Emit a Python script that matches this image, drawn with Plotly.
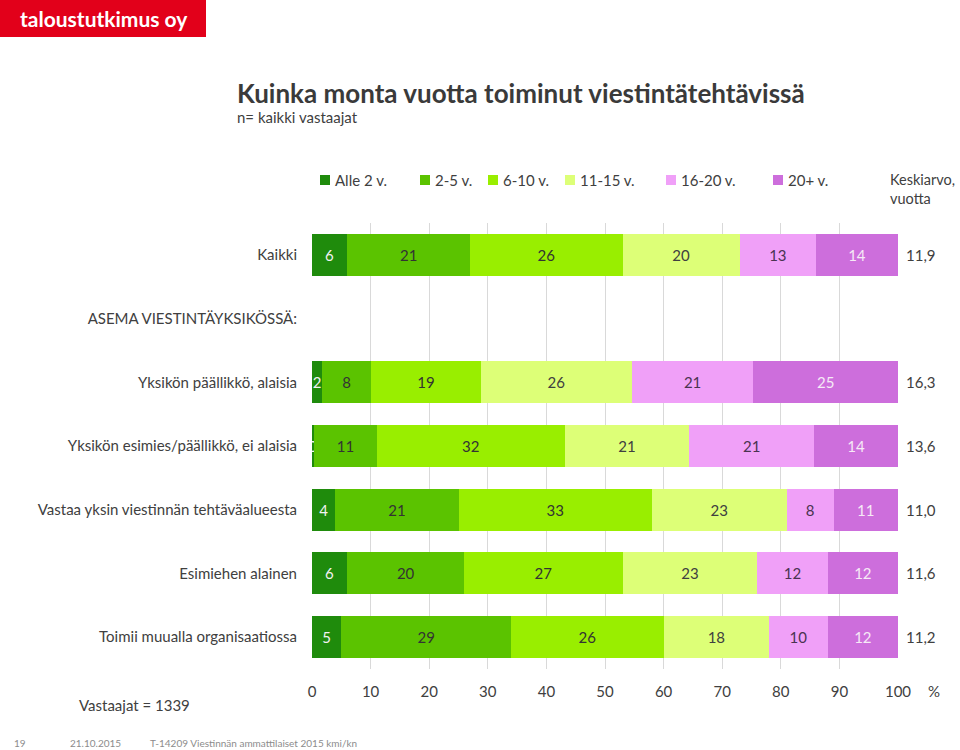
import plotly.graph_objects as go

categories = [
    "Kaikki",
    "ASEMA VIESTINTÄYKSIKÖSSÄ:",
    "Yksikön päällikkö, alaisia",
    "Yksikön esimies/päällikkö, ei alaisia",
    "Vastaa yksin viestinnän tehtäväalueesta",
    "Esimiehen alainen",
    "Toimii muualla organisaatiossa",
]
series_names = ["Alle 2 v.", "2-5 v.", "6-10 v.", "11-15 v.", "16-20 v.", "20+ v."]
# shares in % (labels show rounded values)
alle2 = [6, None, 1.7, 0.3, 4, 6, 5]
v2_5 = [21, None, 8.4, 10.8, 21, 20, 29]
v6_10 = [26, None, 18.7, 32.0, 33, 27, 26]
v11_15 = [20, None, 25.8, 21.3, 23, 23, 18]
v16_20 = [13, None, 20.7, 21.3, 8, 12, 10]
v20plus = [14, None, 24.7, 14.3, 11, 12, 12]
means = ["11,9", None, "16,3", "13,6", "11,0", "11,6", "11,2"]
x_ticks = [0, 10, 20, 30, 40, 50, 60, 70, 80, 90, 100]

colors = ["#1f8b0c", "#5bc300", "#99ee00", "#ddff77", "#f0a0f8", "#cd6edc"]
text_colors = ["#f2f2f2", "#333333", "#333333", "#404040", "#4a3350", "#f6eaf6"]
FONT = "Lato"

fig = go.Figure()
all_series = [alle2, v2_5, v6_10, v11_15, v16_20, v20plus]
for name, vals, col, tcol in zip(series_names, all_series, colors, text_colors):
    fig.add_trace(go.Bar(
        y=categories, x=vals, name=name, orientation="h",
        marker=dict(color=col, line=dict(width=0)),
        texttemplate="%{x:.0f}",
        textposition="inside", insidetextanchor="middle", constraintext="none",
        textfont=dict(family=FONT, size=15, color=tcol),
        width=0.66, showlegend=False, hoverinfo="skip",
    ))

fig.update_layout(
    barmode="stack",
    width=960, height=750, autosize=False,
    margin=dict(l=0, r=0, t=0, b=0),
    paper_bgcolor="white", plot_bgcolor="white",
    font=dict(family=FONT, color="#404040", size=15),
    xaxis=dict(
        domain=[312 / 960, 898 / 960], range=[0, 100],
        tickvals=x_ticks, ticktext=[str(t) for t in x_ticks],
        showgrid=True, gridcolor="#d9d9d9", gridwidth=1,
        zeroline=False, showline=False, ticks="",
        tickfont=dict(family=FONT, size=15, color="#404040"),
        ticklabelstandoff=12, fixedrange=True, automargin=False,
    ),
    yaxis=dict(
        domain=[81 / 750, 527 / 750],
        categoryorder="array", categoryarray=categories[::-1],
        autorange=False, range=[-0.5, len(categories) - 0.5],
        showgrid=False, zeroline=False, showline=False, ticks="",
        tickfont=dict(family=FONT, size=15, color="#404040"),
        ticklabelstandoff=14, fixedrange=True, automargin=False,
    ),
)

# mean values at right of bars
for cat, m in zip(categories, means):
    if m is not None:
        fig.add_annotation(x=100, y=cat, xref="x", yref="y", text=m,
                           showarrow=False, xanchor="left", xshift=6,
                           font=dict(family=FONT, size=15, color="#404040"))

# custom legend
legend_x = [320, 420, 488, 565, 666, 773]
for name, col, lx in zip(series_names, colors, legend_x):
    fig.add_shape(type="rect", xref="paper", yref="paper",
                  x0=lx / 960, x1=(lx + 10) / 960,
                  y0=(750 - 185) / 750, y1=(750 - 175) / 750,
                  fillcolor=col, line=dict(width=0))
    fig.add_annotation(x=(lx + 13) / 960, y=(750 - 180) / 750, xref="paper", yref="paper",
                       text=name, showarrow=False, xanchor="left", yanchor="middle",
                       font=dict(family=FONT, size=15, color="#404040"))
fig.add_annotation(x=888 / 960, y=(750 - 189) / 750, xref="paper", yref="paper",
                   text="Keskiarvo,<br>vuotta", showarrow=False, xanchor="left",
                   yanchor="middle", align="left",
                   font=dict(family=FONT, size=14.5, color="#404040"))

# logo
fig.add_shape(type="rect", xref="paper", yref="paper", x0=0, x1=206 / 960,
              y0=(750 - 37) / 750, y1=1, fillcolor="#e2001a", line=dict(width=0))
fig.add_annotation(x=104 / 960, y=(750 - 18) / 750, xref="paper", yref="paper",
                   text="<b>taloustutkimus oy</b>", showarrow=False,
                   xanchor="center", yanchor="middle",
                   font=dict(family=FONT, size=21, color="white"))

# title & subtitle
fig.add_annotation(x=235 / 960, y=(750 - 93) / 750, xref="paper", yref="paper",
                   text="<b>Kuinka monta vuotta toiminut viestintätehtävissä</b>",
                   showarrow=False, xanchor="left", yanchor="middle",
                   font=dict(family=FONT, size=26, color="#3a3a3a"))
fig.add_annotation(x=235 / 960, y=(750 - 117) / 750, xref="paper", yref="paper",
                   text="n= kaikki vastaajat", showarrow=False, xanchor="left",
                   yanchor="middle", font=dict(family=FONT, size=15, color="#404040"))

# percent sign, respondents, footer
fig.add_annotation(x=926 / 960, y=(750 - 691) / 750, xref="paper", yref="paper",
                   text="%", showarrow=False, xanchor="left", yanchor="middle",
                   font=dict(family=FONT, size=15, color="#404040"))
fig.add_annotation(x=77 / 960, y=(750 - 705) / 750, xref="paper", yref="paper",
                   text="Vastaajat = 1339", showarrow=False, xanchor="left",
                   yanchor="middle", font=dict(family=FONT, size=15, color="#404040"))
for txt, fx in [("19", 12), ("21.10.2015", 68), ("T-14209 Viestinnän ammattilaiset 2015 kmi/kn", 148)]:
    fig.add_annotation(x=fx / 960, y=(750 - 743) / 750, xref="paper", yref="paper",
                       text=txt, showarrow=False, xanchor="left", yanchor="middle",
                       font=dict(family=FONT, size=10, color="#8c8c8c"))

post = (
    "document.body.style.margin='0';"
    "document.body.style.padding='0';"
    "document.body.style.overflow='hidden';"
    "document.documentElement.style.overflow='hidden';"
    "Plotly.relayout('{plot_id}', {width: 960, height: 750});"
)
fig.write_html("out.html", post_script=post,
               config={"responsive": False, "displayModeBar": False})
